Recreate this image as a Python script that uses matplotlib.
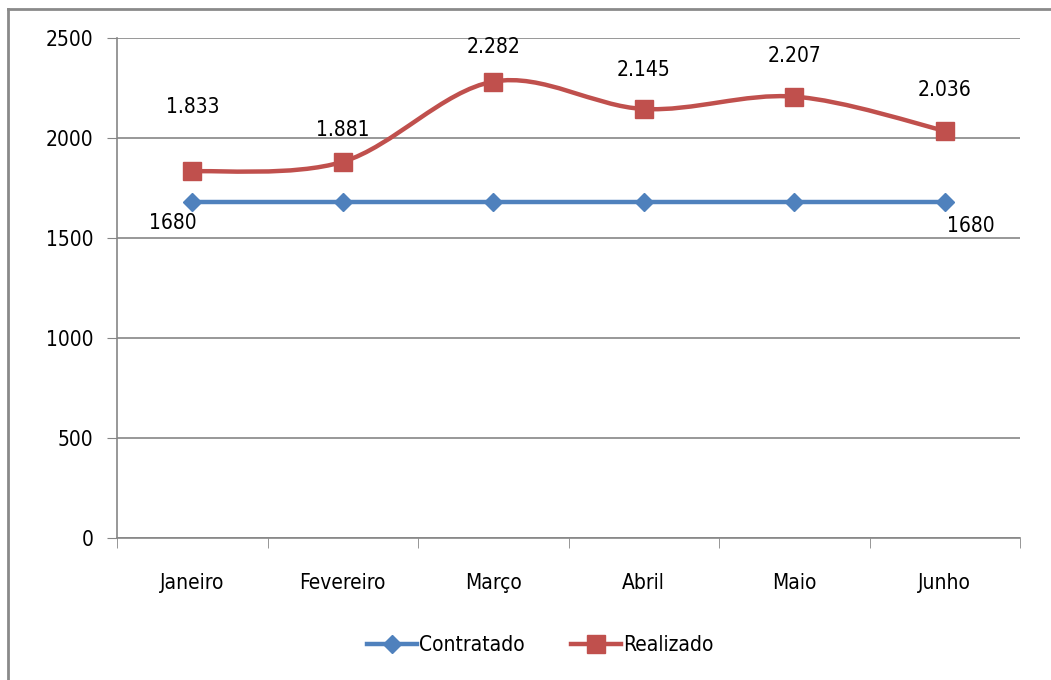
import matplotlib
matplotlib.use("Agg")
import matplotlib.pyplot as plt
from matplotlib.path import Path
from matplotlib.patches import PathPatch
from matplotlib.lines import Line2D

plt.rcParams['font.family'] = ['DejaVu Sans']
plt.rcParams['font.stretch'] = 'condensed'

# data
months = ["Janeiro", "Fevereiro", "Março", "Abril", "Maio", "Junho"]
contratado = [1680, 1680, 1680, 1680, 1680, 1680]
realizado = [1833, 1881, 2282, 2145, 2207, 2036]
realizado_labels = ["1.833", "1.881", "2.282", "2.145", "2.207", "2.036"]

BLUE = "#4F81BD"
RED = "#C0504D"
GRID = "#868686"

# label offsets above the red points (in points)
red_offsets = [39, 16, 18, 21, 22, 22]

fig = plt.figure(figsize=(10.51, 6.8), dpi=100)
ax = fig.add_axes([117 / 1051, 1 - 538 / 680, 903 / 1051, 500 / 680])

x = list(range(len(months)))

# blue straight line
ax.plot(x, contratado, color=BLUE, lw=3.2, marker="D", ms=9,
        markerfacecolor=BLUE, markeredgecolor=BLUE, zorder=3)


# smoothed red line (Excel style bezier through the points)
def smooth_path(xs, ys, t=1 / 6):
    n = len(xs)
    verts = [(xs[0], ys[0])]
    codes = [Path.MOVETO]
    for i in range(n - 1):
        p0 = (xs[max(i - 1, 0)], ys[max(i - 1, 0)])
        p1 = (xs[i], ys[i])
        p2 = (xs[i + 1], ys[i + 1])
        p3 = (xs[min(i + 2, n - 1)], ys[min(i + 2, n - 1)])
        c1 = (p1[0] + (p2[0] - p0[0]) * t, p1[1] + (p2[1] - p0[1]) * t)
        c2 = (p2[0] - (p3[0] - p1[0]) * t, p2[1] - (p3[1] - p1[1]) * t)
        verts += [c1, c2, p2]
        codes += [Path.CURVE4] * 3
    return Path(verts, codes)


ax.add_patch(PathPatch(smooth_path(x, realizado), fill=False, edgecolor=RED,
                       lw=3.2, capstyle="round", zorder=3))
ax.plot(x, realizado, ls="none", marker="s", ms=13, color=RED, zorder=4)

for xi, yi, lab, off in zip(x, realizado, realizado_labels, red_offsets):
    ax.annotate(lab, (xi, yi), xytext=(0, off), textcoords="offset points",
                ha="center", va="bottom", fontsize=15)

ax.annotate(str(contratado[0]), (x[0], contratado[0]), xytext=(-14, -8),
            textcoords="offset points", ha="center", va="top", fontsize=15)
ax.annotate(str(contratado[-1]), (x[-1], contratado[-1]), xytext=(19, -10),
            textcoords="offset points", ha="center", va="top", fontsize=15)

ax.set_xlim(-0.5, len(months) - 0.5)
ax.set_ylim(0, 2500)
ax.set_yticks(range(0, 2501, 500))
ax.set_xticks(x)
ax.set_xticklabels(months, fontsize=15)
ax.tick_params(axis="x", length=0, pad=25)
ax.set_xticks([i - 0.5 for i in range(len(months) + 1)], minor=True)
ax.tick_params(axis="x", which="minor", length=7, color=GRID, direction="out")
ax.tick_params(axis="y", labelsize=15, length=7, color=GRID, pad=10)
ax.grid(axis="y", color=GRID, lw=1.2)
ax.set_axisbelow(True)
for s in ["top", "right"]:
    ax.spines[s].set_visible(False)
for s in ["left", "bottom"]:
    ax.spines[s].set_color(GRID)
    ax.spines[s].set_linewidth(1.2)

handles = [
    Line2D([], [], color=BLUE, lw=3.2, marker="D", ms=9),
    Line2D([], [], color=RED, lw=3.2, marker="s", ms=13),
]
fig.legend(handles, ["Contratado", "Realizado"], loc="center",
           bbox_to_anchor=(540 / 1051, 1 - 645 / 680), ncol=2, frameon=False,
           fontsize=15, handlelength=2.4, handletextpad=0.1, columnspacing=2.2)

# figure border (top and left only)
fig.add_artist(Line2D([8 / 1051, 8 / 1051], [0, 1 - 9 / 680], color="#8A8A8A",
                      lw=2, transform=fig.transFigure))
fig.add_artist(Line2D([8 / 1051, 1], [1 - 9 / 680, 1 - 9 / 680], color="#8A8A8A",
                      lw=2, transform=fig.transFigure))

fig.savefig("out.png", dpi=100)
